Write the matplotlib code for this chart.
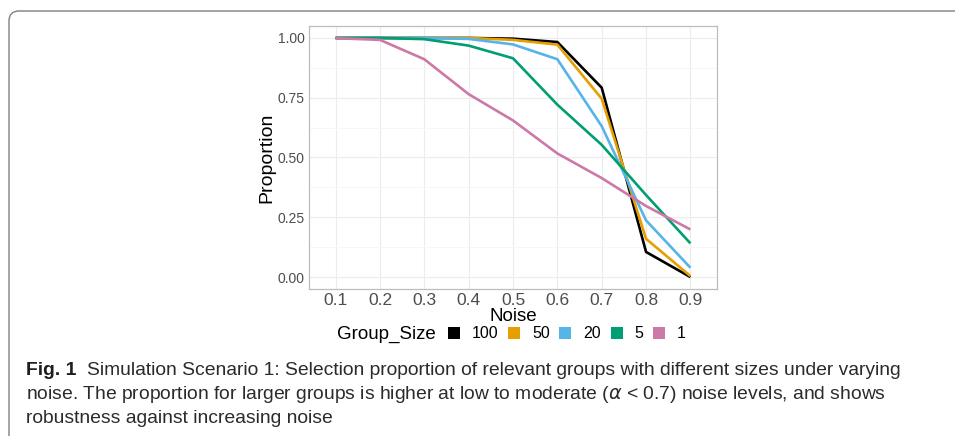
import numpy as np
import matplotlib
matplotlib.use("Agg")
import matplotlib.pyplot as plt
from matplotlib.patches import FancyBboxPatch, Patch
from matplotlib.transforms import IdentityTransform
from matplotlib.ticker import FormatStrFormatter, MultipleLocator

# data
noise = [0.1, 0.2, 0.3, 0.4, 0.5, 0.6, 0.7, 0.8, 0.9]
size_100 = [1.0, 1.0, 1.0, 1.0, 0.997, 0.983, 0.792, 0.105, 0.0]
size_50 = [1.0, 1.0, 1.0, 1.0, 0.992, 0.972, 0.746, 0.160, 0.004]
size_20 = [1.0, 1.0, 1.0, 0.996, 0.973, 0.911, 0.631, 0.237, 0.039]
size_5 = [1.0, 1.0, 0.995, 0.968, 0.915, 0.721, 0.553, 0.343, 0.141]
size_1 = [0.999, 0.992, 0.911, 0.765, 0.655, 0.517, 0.414, 0.297, 0.199]

group_labels = ["100", "50", "20", "5", "1"]
group_colors = ["#000000", "#E69F00", "#56B4E9", "#009E73", "#CC79A7"]
series = [size_100, size_50, size_20, size_5, size_1]

plt.rcParams["font.family"] = ["Liberation Sans", "DejaVu Sans"]

W, H = 955, 436
fig = plt.figure(figsize=(W / 100, H / 100), dpi=100)

# rounded frame of the figure box
frame = FancyBboxPatch((9, -30), 1000, H - 11 + 30,
                       boxstyle="round,pad=0,rounding_size=10",
                       transform=IdentityTransform(), fill=False,
                       edgecolor="#7f7f7f", linewidth=1.0)
fig.patches.append(frame)

ax = fig.add_axes([309 / W, 1 - 289 / H, 408 / W, 263 / H])
for vals, col in zip(series, group_colors):
    ax.plot(noise, vals, color=col, linewidth=1.9, solid_capstyle="butt")

ax.set_xlim(0.1 - 0.06, 0.9 + 0.06)
ax.set_ylim(-0.05, 1.05)
ax.set_xticks(noise)
ax.set_xticklabels([f"{n:.1f}" for n in noise])
ax.yaxis.set_major_locator(MultipleLocator(0.25))
ax.yaxis.set_minor_locator(MultipleLocator(0.125))
ax.yaxis.set_major_formatter(FormatStrFormatter("%.2f"))
ax.tick_params(axis="both", length=0, colors="#4D4D4D")
ax.tick_params(axis="x", labelsize=12.5, pad=3)
ax.tick_params(axis="y", labelsize=10, pad=3)
ax.tick_params(axis="y", which="minor", length=0)
ax.grid(True, which="major", color="#ECECEC", linewidth=0.8)
ax.grid(True, which="minor", axis="y", color="#F6F6F6", linewidth=0.6)
ax.set_axisbelow(True)
for s in ax.spines.values():
    s.set_color("#BDBDBD")
    s.set_linewidth(0.9)

ax.set_xlabel("Noise", fontsize=13.5, labelpad=0)
ax.set_ylabel("Proportion", fontsize=14, labelpad=2)

# legend at bottom
fig.text(337 / W, 1 - 334 / H, "Group_Size", fontsize=13.5, va="center", ha="left")
handles = [Patch(facecolor=c, edgecolor="none") for c in group_colors]
fig.legend(handles, group_labels, loc="center left",
           bbox_to_anchor=(448 / W, 1 - 334 / H), ncol=5, frameon=False,
           fontsize=11.5, handlelength=0.75, handleheight=0.75,
           handletextpad=0.75, columnspacing=0.6, borderaxespad=0, borderpad=0)

# caption
cap_size = 13.9
cap_col = "#2b2b2b"
renderer = fig.canvas.get_renderer()
fig_lbl = fig.text(26 / W, 1 - 375 / H, "Fig. 1", fontsize=cap_size,
                   fontweight="bold", va="baseline", color="#1e1e1e")
bb = fig_lbl.get_window_extent(renderer)
x0 = (bb.x1 + 11) / W
fig.text(x0, 1 - 375 / H,
         "Simulation Scenario 1: Selection proportion of relevant groups with different sizes under varying",
         fontsize=cap_size, va="baseline", color=cap_col)
fig.text(26 / W, 1 - 399 / H,
         r"noise. The proportion for larger groups is higher at low to moderate ($\alpha$ < 0.7) noise levels, and shows",
         fontsize=cap_size, va="baseline", color=cap_col)
fig.text(26 / W, 1 - 423 / H, "robustness against increasing noise",
         fontsize=cap_size, va="baseline", color=cap_col)

fig.savefig("out.png", dpi=100)
